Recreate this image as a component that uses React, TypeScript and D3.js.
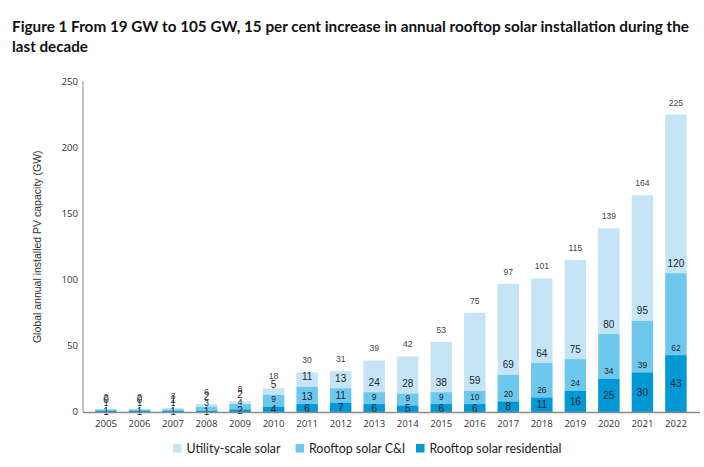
import React from "react";
import * as d3 from "d3";

const years = ["2005","2006","2007","2008","2009","2010","2011","2012","2013","2014","2015","2016","2017","2018","2019","2020","2021","2022"];
const residential = [1,1,1,1,2,4,6,7,6,5,6,6,8,11,16,25,30,43];
const commercial = [1,1,1,3,4,9,13,11,9,9,9,10,20,26,24,34,39,62];
const utility = [0,0,1,2,2,5,11,13,24,28,38,59,69,64,75,80,95,120];
const totals = [2,2,3,6,8,18,30,31,39,42,53,75,97,101,115,139,164,225];
const yTicks = [0,50,100,150,200,250];
const seriesNames = ["Utility-scale solar","Rooftop solar C&I","Rooftop solar residential"];
const titleLines = [
  "Figure 1 From 19 GW to 105 GW, 15 per cent increase in annual rooftop solar installation during the",
  "last decade",
];
const yTitle = "Global annual installed PV capacity (GW)";

const C_UTIL = "#c5e5f6";
const C_CI = "#6ec7ec";
const C_RES = "#0098d5";
const LABEL = "#1c2633";

export default function App() {
  const x = d3.scaleBand<string>().domain(years).range([89.2, 692.7]).paddingInner(0.36).paddingOuter(0.18);
  const y = d3.scaleLinear().domain([0, 250]).range([412, 81.5]);
  const bw = x.bandwidth();
  const legendColors = [C_UTIL, C_CI, C_RES];
  const legendX = [173, 295.5, 416];

  return (
    <svg width={704} height={467} style={{ position: "absolute", left: 0, top: 0, background: "#fff" }}>
      {titleLines.map((t, i) => (
        <text key={i} x={12} y={32 + i * 20} fontFamily="Lato" fontWeight={700} fontSize={15.2} fill="#111"
          {...(i === 0 ? { textLength: 677, lengthAdjust: "spacingAndGlyphs" } : {})}>{t}</text>
      ))}
      <text transform={`translate(41,${(y(0) + y(250)) / 2}) rotate(-90)`} textAnchor="middle"
        fontFamily="Liberation Sans" fontSize={10.5} fill="#333">{yTitle}</text>
      {yTicks.map((t) => (
        <text key={t} x={78} y={y(t)} dy="0.35em" textAnchor="end" fontFamily="Open Sans" fontSize={9.6} fill="#333">{t}</text>
      ))}
      {years.map((yr, i) => {
        const x0 = x(yr)!;
        const cx = x0 + bw / 2;
        const r = residential[i], c = commercial[i], u = utility[i];
        const ciSmall = !(yr === "2011" || yr === "2012");
        return (
          <g key={yr}>
            <rect x={x0} width={bw} y={y(r + c + u)} height={y(r + c) - y(r + c + u)} fill={C_UTIL} />
            <rect x={x0} width={bw} y={y(r + c)} height={y(r) - y(r + c)} fill={C_CI} />
            <rect x={x0} width={bw} y={y(r)} height={y(0) - y(r)} fill={C_RES} />
            <text x={cx} y={y(totals[i]) - 12} dy="0.35em" textAnchor="middle" fontFamily="Liberation Sans" fontSize={8.6} fill="#444">{totals[i]}</text>
            <text x={cx} y={y(r + c) - 10} dy="0.35em" textAnchor="middle" fontFamily="Liberation Sans" fontSize={10} fill={LABEL}>{u}</text>
            <text x={cx} y={y(r) - 7.5} dy="0.35em" textAnchor="middle" fontFamily="Liberation Sans" fontSize={ciSmall ? 8.4 : 10} fill={LABEL}>{c}</text>
            <text x={cx} y={(y(r) + y(0)) / 2} dy="0.35em" textAnchor="middle" fontFamily="Liberation Sans" fontSize={10} fill={LABEL}>{r}</text>
            <text x={cx} y={424} dy="0.35em" textAnchor="middle" fontFamily="Open Sans" fontSize={9.6} fill="#333">{yr}</text>
          </g>
        );
      })}
      <line x1={83} x2={83} y1={81} y2={412} stroke="#8c8c8c" strokeWidth={1} />
      <line x1={83} x2={700} y1={412.5} y2={412.5} stroke="#8c8c8c" strokeWidth={1.5} />
      {seriesNames.map((s, i) => (
        <g key={s}>
          <rect x={legendX[i]} y={444} width={8.5} height={8.5} fill={legendColors[i]} />
          <text x={legendX[i] + 13.5} y={448.5} dy="0.35em" fontFamily="Lato" fontSize={12.4} fill="#222">{s}</text>
        </g>
      ))}
    </svg>
  );
}
